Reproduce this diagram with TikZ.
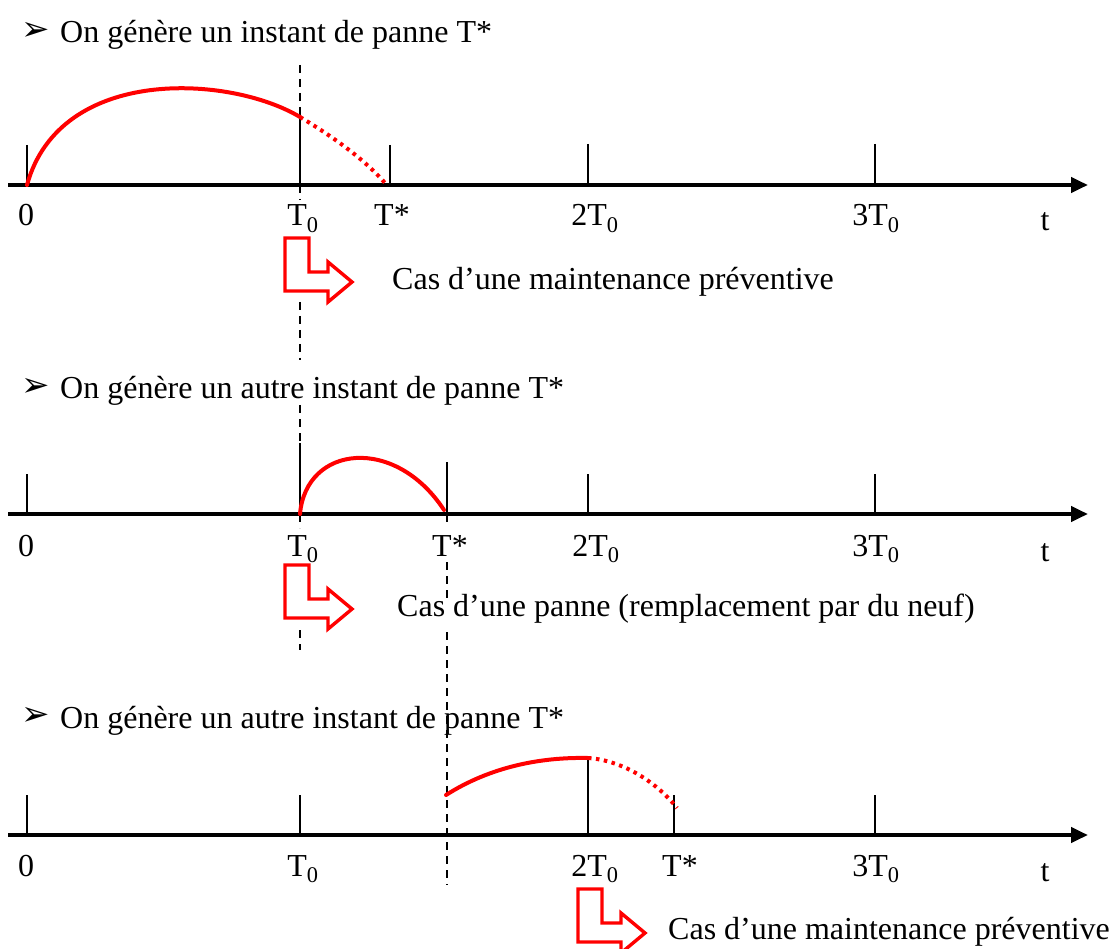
\documentclass[tikz,border=0pt]{standalone}
\usepackage{fontspec}
\setmainfont{Liberation Serif}
\newfontfamily\symfont{DejaVu Sans}
\usetikzlibrary{arrows.meta}
\begin{document}
\begin{tikzpicture}[x=1pt,y=-1pt,
  txt/.style={inner sep=0pt,font=\fontsize{32}{38}\selectfont},
  lbl/.style={txt,anchor=base},
  bul/.style={inner sep=0pt,font=\symfont\fontsize{34}{40}\selectfont},
  axisline/.style={line width=4.2pt,-{Triangle[length=17pt,width=15pt]}},
  tick/.style={line width=2.8pt},
  guide/.style={line width=2.6pt,dash pattern=on 8pt off 6pt},
  curve/.style={red,line width=4pt,line cap=round},
  dotcurve/.style={red,line width=4pt,dash pattern=on 3.5pt off 4.5pt},
  redarrow/.style={draw=red,fill=white,line width=3.4pt,line join=miter}
]
\useasboundingbox (0,0) rectangle (1119,949);

% ---------- headers
\node[bul] (b1) at (36,31) {➢};
\node[txt,anchor=base west] (h1) at (60,43) {On génère un instant de panne T*};

% ---------- panel 1
\coordinate (a1s) at (8,185);
\coordinate (a1e) at (1088,185);
\draw[guide] (300,65) -- (300,117);
\draw[guide] (300,185) -- (300,200);
\draw[guide] (300,302) -- (300,360);
\draw[tick] (27,145) -- (27,185);
\draw[tick] (300,117) -- (300,185);
\draw[tick] (390,145) -- (390,185);
\draw[tick] (588,144) -- (588,185);
\draw[tick] (875,144) -- (875,185);
\draw[axisline] (a1s) -- (a1e);
\draw[curve] (27,185) .. controls (60,65) and (230,75) .. (300,117);
\draw[dotcurve] (300,117) .. controls (335,138) and (365,160) .. (385,183);
\node[lbl] (l10) at (26,226) {0};
\node[lbl] (l1t0) at (303,226) {T\textsubscript{0}};
\node[lbl] (l1ts) at (392,226) {T*};
\node[lbl] (l12t) at (595,226) {2T\textsubscript{0}};
\node[lbl] (l13t) at (876,226) {3T\textsubscript{0}};
\node[lbl] (l1t) at (1045,231) {t};
\draw[redarrow,shift={(285,238)}] (0,0) -- (24,0) -- (24,34) -- (43,34) -- (43,24) -- (67,44) -- (43,64) -- (43,53) -- (0,53) -- cycle;
\node[txt,anchor=west] (c1) at (392,282) {Cas d’une maintenance préventive};

% ---------- panel 2
\node[bul] (b2) at (36,387) {➢};
\node[txt,anchor=base west] (h2) at (60,399) {On génère un autre instant de panne T*};
\coordinate (a2s) at (8,514);
\coordinate (a2e) at (1088,514);
\draw[guide] (300,405) -- (300,443);
\draw[guide] (300,514) -- (300,528);
\draw[guide] (300,630) -- (300,650);
\draw[guide] (447,514) -- (447,526);
\draw[guide] (447,562) -- (447,600);
\draw[guide] (447,632) -- (447,885);
\draw[tick] (27,474) -- (27,514);
\draw[tick] (300,443) -- (300,514);
\draw[tick] (447,462) -- (447,514);
\draw[tick] (588,474) -- (588,514);
\draw[tick] (875,474) -- (875,514);
\draw[axisline] (a2s) -- (a2e);
\draw[curve] (300,514) .. controls (306,445) and (395,435) .. (444,510);
\node[lbl] (l20) at (26,556) {0};
\node[lbl] (l2t0) at (303,556) {T\textsubscript{0}};
\node[lbl] (l2ts) at (450,556) {T*};
\node[lbl] (l22t) at (596,556) {2T\textsubscript{0}};
\node[lbl] (l23t) at (876,556) {3T\textsubscript{0}};
\node[lbl] (l2t) at (1045,561) {t};
\draw[redarrow,shift={(285,565)}] (0,0) -- (24,0) -- (24,34) -- (43,34) -- (43,24) -- (67,44) -- (43,64) -- (43,53) -- (0,53) -- cycle;
\node[txt,anchor=west] (c2) at (397,609) {Cas d’une panne (remplacement par du neuf)};

% ---------- panel 3
\node[bul] (b3) at (36,716) {➢};
\node[txt,anchor=base west] (h3) at (60,728) {On génère un autre instant de panne T*};
\coordinate (a3s) at (8,835);
\coordinate (a3e) at (1088,835);
\draw[tick] (27,795) -- (27,835);
\draw[tick] (300,795) -- (300,835);
\draw[tick] (588,758) -- (588,835);
\draw[tick] (674,795) -- (674,835);
\draw[tick] (875,795) -- (875,835);
\draw[axisline] (a3s) -- (a3e);
\draw[curve] (446,795) .. controls (490,767) and (540,757) .. (588,758);
\draw[dotcurve] (588,758) .. controls (620,760) and (655,780) .. (677,808);
\node[lbl] (l30) at (26,876) {0};
\node[lbl] (l3t0) at (303,876) {T\textsubscript{0}};
\node[lbl] (l32t) at (595,876) {2T\textsubscript{0}};
\node[lbl] (l3ts) at (680,876) {T*};
\node[lbl] (l33t) at (876,876) {3T\textsubscript{0}};
\node[lbl] (l3t) at (1045,881) {t};
\draw[redarrow,shift={(578,889)}] (0,0) -- (24,0) -- (24,34) -- (43,34) -- (43,24) -- (67,44) -- (43,64) -- (43,53) -- (0,53) -- cycle;
\node[txt,anchor=west] (c3) at (668,932) {Cas d’une maintenance préventive};
\end{tikzpicture}
\end{document}
